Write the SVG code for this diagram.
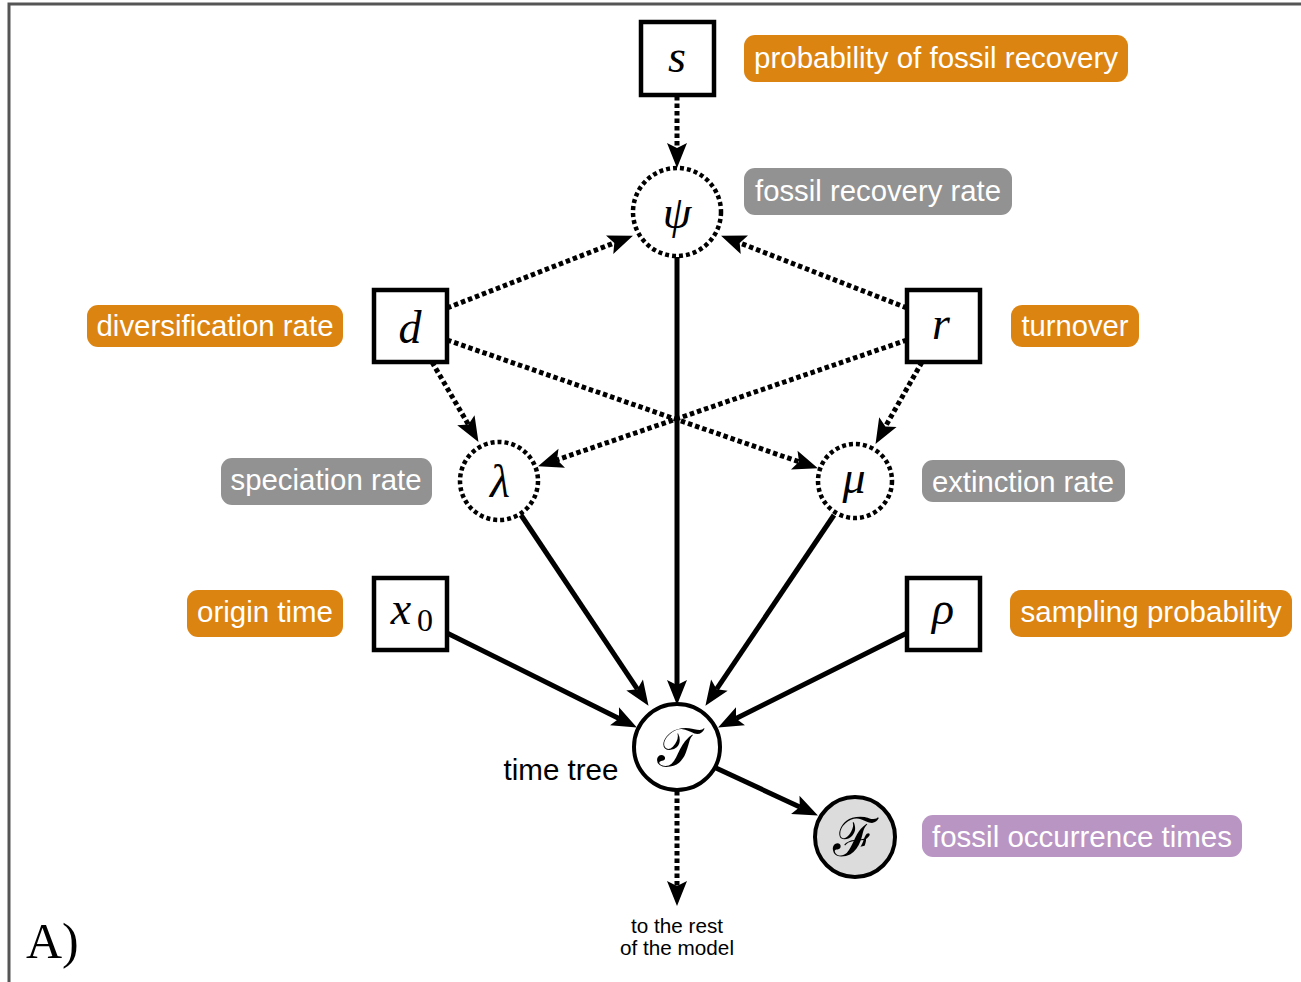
<svg xmlns="http://www.w3.org/2000/svg" width="1301" height="982" viewBox="0 0 1301 982">
<defs>
<marker id="ah" markerUnits="userSpaceOnUse" markerWidth="26" markerHeight="22" viewBox="0 -11 26 22" refX="5" refY="0" orient="auto" overflow="visible">
<path d="M0,-10 L25,0 L0,10 L5,0 z" fill="#000"/>
</marker>
</defs>
<style>
.frame{fill:none;stroke:#555;stroke-width:3}
.box{fill:#fff;stroke:#000;stroke-width:4.5}
.dcirc{fill:#fff;stroke:#000;stroke-width:4.5;stroke-dasharray:4 3}
.scirc{fill:#fff;stroke:#000;stroke-width:4}
.math{font-family:"Liberation Serif","DejaVu Serif",serif;font-style:italic;font-size:46px;text-anchor:middle;fill:#000}
.cal{font-family:"DejaVu Serif",serif;font-size:54px;text-anchor:middle;fill:#000}
.lbl{font-family:"Liberation Sans",Arial,sans-serif;font-size:29px;fill:#fff;text-anchor:middle}
.or{fill:#DC8412}
.gr{fill:#929292}
.pu{fill:#B995C4}
.solid{fill:none;stroke:#000;stroke-width:5;marker-end:url(#ah)}
.dot{fill:none;stroke:#000;stroke-width:5;stroke-dasharray:4.5 3;marker-end:url(#ah)}
.plain{font-family:"Liberation Sans",Arial,sans-serif;fill:#000;text-anchor:middle}
</style>
<rect width="1301" height="982" fill="#fff"/>
<path class="frame" d="M9,982 L9,4 L1301,4"/>

<g id="connectors">
<line class="dot" x1="677" y1="96" x2="677" y2="148"/>
<line class="dot" x1="447" y1="308" x2="614.3" y2="242.9"/>
<line class="dot" x1="907" y1="308" x2="739.7" y2="242.9"/>
<line class="dot" x1="447" y1="340" x2="799" y2="461.8"/>
<line class="dot" x1="907" y1="340" x2="557" y2="459.8"/>
<line class="dot" x1="432" y1="362" x2="468.4" y2="424.6"/>
<line class="dot" x1="922" y1="362" x2="885.4" y2="426.5"/>
<line class="solid" x1="677" y1="257" x2="677" y2="685"/>
<line class="solid" x1="521" y1="515" x2="637.4" y2="689.2"/>
<line class="solid" x1="834" y1="515" x2="716.6" y2="689.2"/>
<line class="solid" x1="447" y1="633" x2="619" y2="718.5"/>
<line class="solid" x1="907" y1="633" x2="736" y2="718.5"/>
<line class="solid" x1="716" y1="768" x2="799.8" y2="807"/>
<line class="dot" x1="677" y1="791" x2="677" y2="886"/>
</g>

<g id="node-s">
<rect class="box" x="641" y="22" width="73" height="73"/>
<text class="math" x="677" y="72">s</text>
</g>
<g id="label-s">
<rect class="or" x="744" y="35" width="384" height="47" rx="11"/>
<text class="lbl" x="936" y="68" textLength="364" lengthAdjust="spacingAndGlyphs">probability of fossil recovery</text>
</g>

<g id="node-psi">
<circle class="dcirc" cx="677" cy="212" r="44"/>
<text class="math" x="677" y="228">ψ</text>
</g>
<g id="label-psi">
<rect class="gr" x="744" y="168" width="268" height="47" rx="11"/>
<text class="lbl" x="878" y="201" textLength="246" lengthAdjust="spacingAndGlyphs">fossil recovery rate</text>
</g>

<g id="node-d">
<rect class="box" x="374" y="290" width="73" height="72"/>
<text class="math" x="410" y="343">d</text>
</g>
<g id="label-d">
<rect class="or" x="87" y="305" width="256" height="42" rx="11"/>
<text class="lbl" x="215" y="336" textLength="237" lengthAdjust="spacingAndGlyphs">diversification rate</text>
</g>

<g id="node-r">
<rect class="box" x="907" y="290" width="73" height="72"/>
<text class="math" x="941" y="339">r</text>
</g>
<g id="label-r">
<rect class="or" x="1011" y="305" width="128" height="42" rx="11"/>
<text class="lbl" x="1075" y="336" textLength="107" lengthAdjust="spacingAndGlyphs">turnover</text>
</g>

<g id="node-lambda">
<circle class="dcirc" cx="499" cy="481" r="39"/>
<text class="math" x="500" y="497">λ</text>
</g>
<g id="label-lambda">
<rect class="gr" x="221" y="458" width="211" height="47" rx="11"/>
<text class="lbl" x="326" y="490" textLength="191" lengthAdjust="spacingAndGlyphs">speciation rate</text>
</g>

<g id="node-mu">
<circle class="dcirc" cx="855" cy="481" r="37"/>
<text class="math" x="854" y="493">μ</text>
</g>
<g id="label-mu">
<rect class="gr" x="922" y="460" width="203" height="42" rx="11"/>
<text class="lbl" x="1023" y="492" textLength="182" lengthAdjust="spacingAndGlyphs">extinction rate</text>
</g>

<g id="node-x0">
<rect class="box" x="374" y="578" width="73" height="72"/>
<text class="math" x="401" y="624">x</text>
<text x="425" y="631" style="font-family:'Liberation Serif',serif;font-size:32px;text-anchor:middle">0</text>
</g>
<g id="label-x0">
<rect class="or" x="187" y="590" width="156" height="47" rx="11"/>
<text class="lbl" x="265" y="622" textLength="136" lengthAdjust="spacingAndGlyphs">origin time</text>
</g>

<g id="node-rho">
<rect class="box" x="907" y="578" width="73" height="72"/>
<text class="math" x="943" y="624">ρ</text>
</g>
<g id="label-rho">
<rect class="or" x="1010" y="590" width="282" height="47" rx="11"/>
<text class="lbl" x="1151" y="622" textLength="261" lengthAdjust="spacingAndGlyphs">sampling probability</text>
</g>

<g id="node-tau">
<circle class="scirc" cx="677" cy="747" r="43"/>
<text class="cal" x="677" y="766">𝒯</text>
<text class="plain" x="561" y="780" style="font-size:29px" textLength="115" lengthAdjust="spacingAndGlyphs">time tree</text>
</g>

<g id="node-F">
<circle class="scirc" cx="855" cy="837" r="40" style="fill:#dcdcdc"/>
<text class="cal" x="855" y="856">ℱ</text>
</g>
<g id="label-F">
<rect class="pu" x="922" y="815" width="320" height="42" rx="11"/>
<text class="lbl" x="1082" y="847" textLength="300" lengthAdjust="spacingAndGlyphs">fossil occurrence times</text>
</g>

<g id="rest">
<text class="plain" x="677" y="933" style="font-size:20px" textLength="92" lengthAdjust="spacingAndGlyphs">to the rest</text>
<text class="plain" x="677" y="955" style="font-size:20px" textLength="114" lengthAdjust="spacingAndGlyphs">of the model</text>
</g>

<text x="26" y="958" style="font-family:'Liberation Serif',serif;font-size:50px;fill:#000">A)</text>
</svg>
